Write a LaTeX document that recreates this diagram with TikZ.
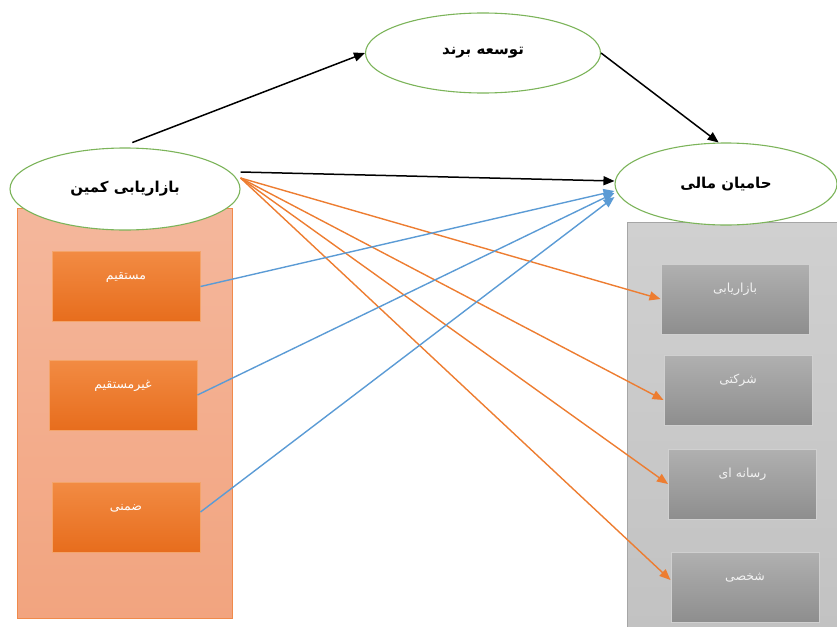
\documentclass[tikz,border=0pt]{standalone}
\usepackage{fontspec}
\newfontfamily\arabicfont[Script=Arabic]{DejaVu Sans}
\TeXXeTstate=1
\usetikzlibrary{shapes.geometric,arrows.meta}
\definecolor{ovalgreen}{HTML}{7CB45A}
\definecolor{sfill}{HTML}{F4B79C}
\definecolor{sfilldark}{HTML}{F2A47F}
\definecolor{sline}{HTML}{F08A4B}
\definecolor{ofill}{HTML}{F28B43}
\definecolor{ofilldark}{HTML}{E76D1D}
\definecolor{oline}{HTML}{F4A46A}
\definecolor{gfill}{HTML}{D0D0D0}
\definecolor{gfilldark}{HTML}{C2C2C2}
\definecolor{gline}{HTML}{A6A6A6}
\definecolor{gbox}{HTML}{B0B0B0}
\definecolor{gboxdark}{HTML}{8E8E8E}
\definecolor{arrorange}{HTML}{ED7D31}
\definecolor{arrblue}{HTML}{5B9BD5}
\newcommand{\fatext}[1]{\beginR #1\endR}

\begin{document}
\begin{tikzpicture}[x=1pt,y=-1pt,>={Triangle[length=11pt,width=9pt]},
    oval/.style={ellipse,draw=ovalgreen,line width=1.1pt,fill=white,inner sep=0pt,
      font=\arabicfont\bfseries\fontsize{15}{18}\selectfont},
    panel/.style={rectangle,inner sep=0pt,line width=1pt},
    itembox/.style={rectangle,inner sep=0pt,minimum width=148pt,minimum height=70pt,
      line width=1pt,text height=11pt,text depth=25pt,
      font=\arabicfont\fontsize{12.5}{15}\selectfont},
    orangebox/.style={itembox,draw=oline,top color=ofill,bottom color=ofilldark,text=white},
    graybox/.style={itembox,draw=gfill,top color=gbox,bottom color=gboxdark,text=white!95!black},
    effect/.style={->,line width=1.4pt,arrorange},
    cause/.style={->,line width=1.4pt,arrblue},
    main/.style={->,line width=1.5pt,black}]
  \useasboundingbox (0,0) rectangle (837,626);

  \node[panel,draw=sline,top color=sfill,bottom color=sfilldark,
    minimum width=215pt,minimum height=410pt] (lpanel) at (124.5,413) {};
  \node[panel,draw=gline,top color=gfill,bottom color=gfilldark,
    minimum width=213pt,minimum height=408pt] (rpanel) at (733.5,426) {};

  \node[oval,minimum width=235pt,minimum height=80pt] (brand) at (483,53) {\fatext{توسعه برند}};
  \node[oval,minimum width=230pt,minimum height=82pt] (kamin) at (125,189) {\fatext{بازاریابی کمین}};
  \node[oval,minimum width=222pt,minimum height=82pt] (hami) at (726,184) {\fatext{حامیان مالی}};

  \node[orangebox] (direct) at (126,286.5) {\fatext{مستقیم}};
  \node[orangebox] (indirect) at (123,395) {\fatext{غیرمستقیم}};
  \node[orangebox] (implicit) at (126,517) {\fatext{ضمنی}};

  \node[graybox] (marketing) at (735,299) {\fatext{بازاریابی}};
  \node[graybox] (corporate) at (738,390) {\fatext{شرکتی}};
  \node[graybox] (media) at (742.5,484) {\fatext{رسانه ای}};
  \node[graybox] (personal) at (745,587) {\fatext{شخصی}};

  \draw[main] ([yshift=5pt]kamin.80) -- (brand.west);
  \draw[main] (brand.east) -- (hami.100);
  \draw[main] ([yshift=17pt]kamin.east) -- ([yshift=3pt]hami.west);

  \draw[effect] ([yshift=11pt]kamin.east) -- (marketing.west);
  \draw[effect] ([yshift=11pt]kamin.east) -- ([yshift=-10pt]corporate.west);
  \draw[effect] ([yshift=11pt]kamin.east) -- (media.west);
  \draw[effect] ([yshift=11pt]kamin.east) -- ([yshift=7pt]personal.west);

  \draw[cause] (direct.east) -- ([yshift=-7pt]hami.west);
  \draw[cause] (indirect.east) -- ([yshift=-9pt]hami.west);
  \draw[cause] ([yshift=5pt]implicit.east) -- ([yshift=-13pt]hami.west);
\end{tikzpicture}
\end{document}
